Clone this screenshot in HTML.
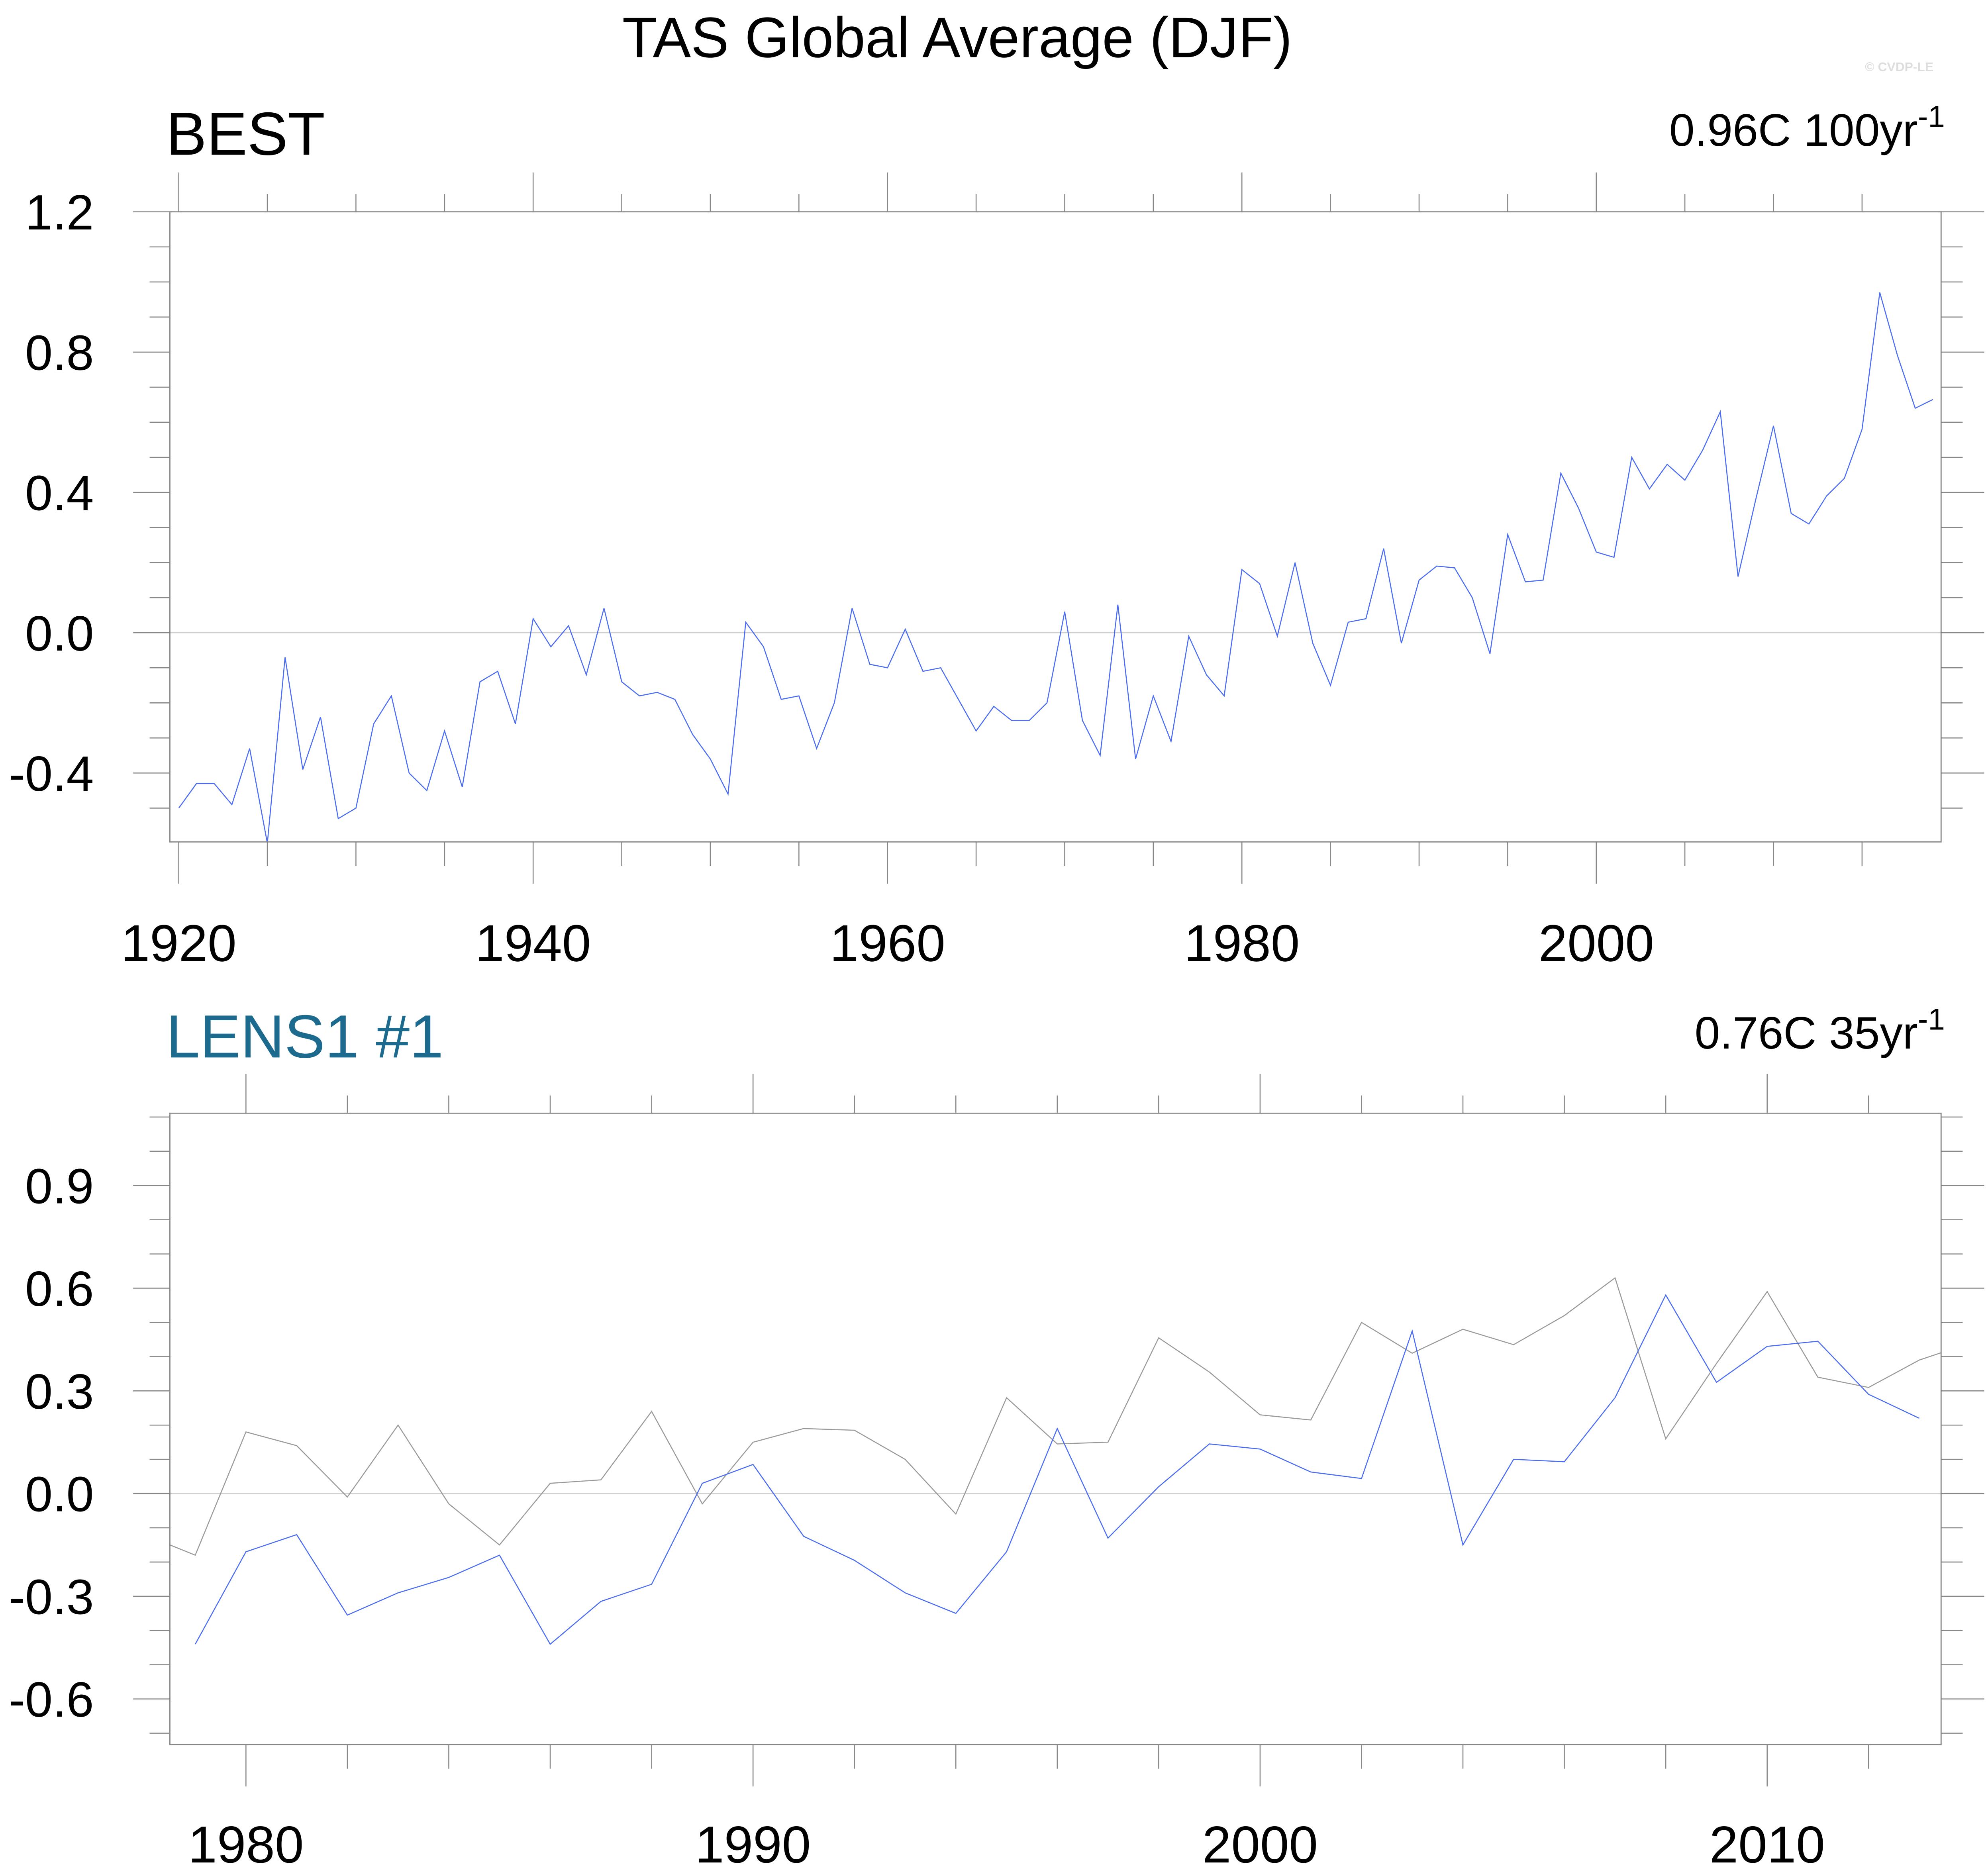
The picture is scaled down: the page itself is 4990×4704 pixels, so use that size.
<!DOCTYPE html>
<html><head><meta charset="utf-8"><style>
html,body{margin:0;padding:0;background:#fff;}
svg{display:block;}
text{font-family:"Liberation Sans",sans-serif;}
</style></head><body>
<svg id="chart" xmlns="http://www.w3.org/2000/svg" width="4990" height="4704" viewBox="0 0 1568 1478">
<rect width="1568" height="1478" fill="#fff"/>
<text x="755" y="45" font-size="45" text-anchor="middle">TAS Global Average (DJF)</text>
<text x="1525" y="56" font-size="10" font-weight="bold" fill="#ddd" text-anchor="end">© CVDP-LE</text>
<text x="131" y="122" font-size="48">BEST</text>
<text x="1534" y="115" font-size="36" text-anchor="end">0.96C 100yr<tspan font-size="24" dy="-15">-1</tspan></text>
<text x="131" y="834" font-size="48" fill="#1c6b8e">LENS1 #1</text>
<text x="1534" y="827" font-size="36" text-anchor="end">0.76C 35yr<tspan font-size="24" dy="-15">-1</tspan></text>
<g id="top"></g>
<g id="bot"></g>
</svg>
<script>
const bestYears0 = 1920;
const bestValues = [-0.50,-0.43,-0.43,-0.49,-0.33,-0.60,-0.07,-0.39,-0.24,-0.53,-0.50,-0.26,-0.18,-0.40,-0.45,-0.28,-0.44,-0.14,-0.11,-0.26,
0.04,-0.04,0.02,-0.12,0.07,-0.14,-0.18,-0.17,-0.19,-0.29,-0.36,-0.46,0.03,-0.04,-0.19,-0.18,-0.33,-0.20,0.07,-0.09,
-0.10,0.01,-0.11,-0.10,-0.19,-0.28,-0.21,-0.25,-0.25,-0.20,0.06,-0.25,-0.35,0.08,-0.36,-0.18,-0.31,-0.01,-0.12,-0.18,
0.18,0.14,-0.01,0.20,-0.03,-0.15,0.03,0.04,0.24,-0.03,0.15,0.19,0.185,0.10,-0.06,0.28,0.145,0.15,0.455,0.355,
0.23,0.215,0.50,0.41,0.48,0.435,0.52,0.63,0.16,0.38,0.59,0.34,0.31,0.39,0.44,0.58,0.97,0.79,0.64,0.665];
const lensYears0 = 1979;
const lensValues = [-0.44,-0.17,-0.12,-0.355,-0.29,-0.245,-0.18,-0.44,-0.315,-0.265,0.03,0.085,-0.125,-0.195,-0.29,-0.35,-0.17,0.19,-0.13,0.02,
0.145,0.13,0.063,0.044,0.475,-0.15,0.10,0.093,0.28,0.58,0.325,0.43,0.445,0.29,0.22];
const topYTicks = [-0.4,0.0,0.4,0.8,1.2];
const topXTicks = [1920,1940,1960,1980,2000];
const botYTicks = [-0.6,-0.3,0.0,0.3,0.6,0.9];
const botXTicks = [1980,1990,2000,2010];

const NS="http://www.w3.org/2000/svg";
function el(parent,tag,attrs){const e=document.createElementNS(NS,tag);for(const k in attrs)e.setAttribute(k,attrs[k]);parent.appendChild(e);return e;}

function panel(g,id,cfg){
  const {L,R,T,B,x0,x1,y0,y1}=cfg;
  const sx=v=>L+(v-x0)/(x1-x0)*(R-L);
  const sy=v=>B-(v-y0)/(y1-y0)*(B-T);
  const clip=el(g,'clipPath',{id:id+'clip'});
  el(clip,'rect',{x:L,y:T,width:R-L,height:B-T});
  const z=el(g,'line',{x1:L,x2:R,y1:sy(0),y2:sy(0),stroke:'#d0d0d0','stroke-width':0.8});
  
  
  for(let v=Math.ceil(y0*10-1e-6);v<=Math.floor(y1*10+1e-6);v++){
    const y=sy(v/10);
    const maj=cfg.yTicks.some(t=>Math.abs(t*10-v)<1e-6);
    const len=maj?29:16;
    el(g,'line',{x1:L-len,x2:L,y1:y,y2:y,stroke:'#888','stroke-width':0.8});
    el(g,'line',{x1:R,x2:R+len+(maj?5:1),y1:y,y2:y,stroke:'#888','stroke-width':0.8});
  }
  cfg.yTicks.forEach(v=>{
    const t=el(g,'text',{x:74,y:sy(v)+14,'font-size':39,'text-anchor':'end'});
    t.textContent=v.toFixed(1);
    
    
  });
  for(let yr=Math.ceil(x0);yr<=x1;yr+=1){
    if((yr-cfg.xTicks[0])%cfg.xMinor!==0)continue;
    const x=sx(yr);
    const maj=((yr-cfg.xTicks[0])%cfg.xMajor===0);
    const len=maj?31:16;
    el(g,'line',{x1:x,x2:x,y1:T-len+(maj?0:2),y2:T,stroke:'#888','stroke-width':0.8});
    el(g,'line',{x1:x,x2:x,y1:B,y2:B+len+(maj?2:3),stroke:'#888','stroke-width':0.8});
  }
  cfg.xTicks.forEach(v=>{
    const t=el(g,'text',{x:sx(v),y:cfg.labY,'font-size':41,'text-anchor':'middle'});
    t.textContent=v;
    
    
  });
  cfg.series.forEach(s=>{
    const pts=s.vals.map((v,i)=>sx(s.y0+i).toFixed(2)+','+sy(v).toFixed(2)).join(' ');
    const p=el(g,'polyline',{points:pts,fill:'none',stroke:s.color,'stroke-width':0.8,'clip-path':'url(#'+id+'clip)'});
    
    
  });
  const f=el(g,'rect',{x:L,y:T,width:R-L,height:B-T,fill:'none',stroke:'#888','stroke-width':0.9});
  
  
}

panel(document.getElementById('top'),'top',{L:134,R:1531,T:167,B:664,x0:1919.5,x1:2019.46,
  y0:1.2-(664-167)/(499-167)*1.2,y1:1.2,yTicks:topYTicks,xTicks:topXTicks,xMinor:5,xMajor:20,labY:758,
  series:[{name:'best-line',vals:bestValues,y0:bestYears0,color:'#4a6cf0'}]});
panel(document.getElementById('bot'),'bot',{L:134,R:1531,T:878,B:1376,x0:1978.5,x1:2013.43,
  y0:-(1376-1178)/270,y1:(1178-878)/270,yTicks:botYTicks,xTicks:botXTicks,xMinor:2,xMajor:10,labY:1469,
  series:[{name:'best-reference-line',vals:bestValues.slice(1978-bestYears0),y0:1978,color:'#9a9a9a'},
          {name:'lens-member-line',vals:lensValues,y0:lensYears0,color:'#4a6cf0'}]});
</script>
</body></html>
